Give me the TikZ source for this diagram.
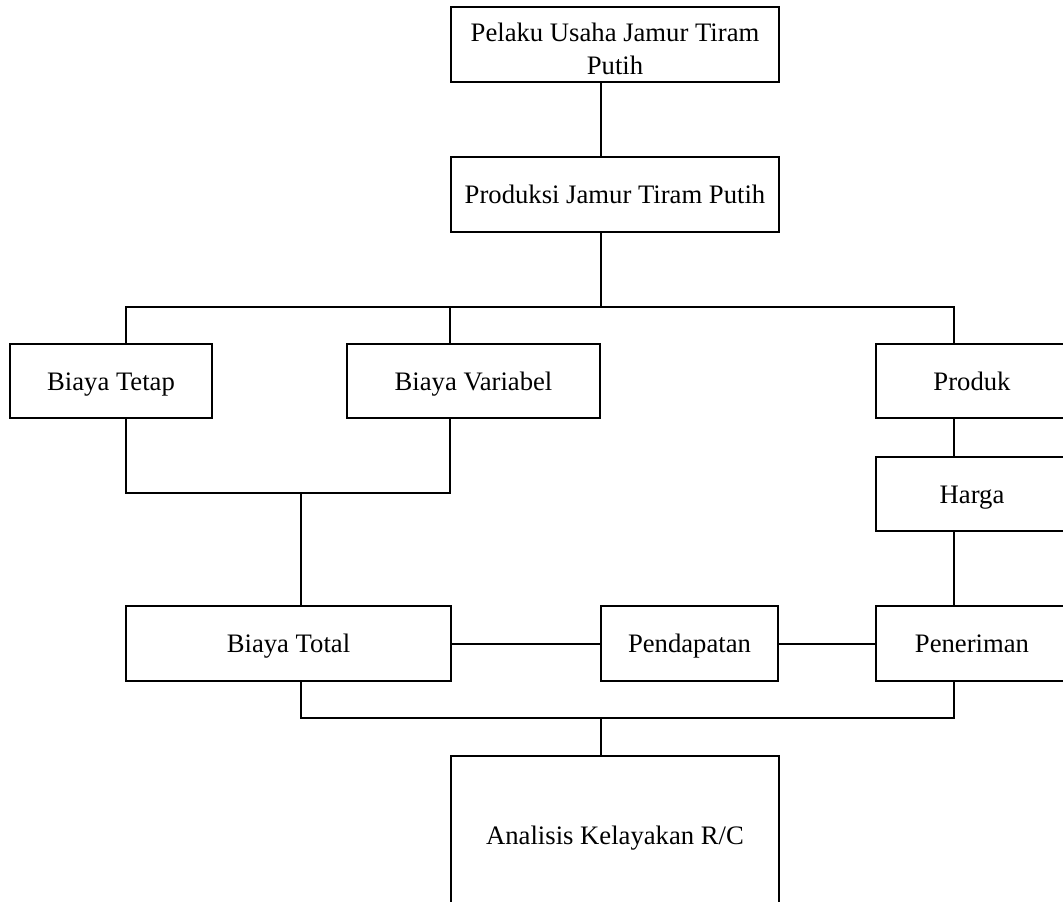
\documentclass[tikz,border=0pt]{standalone}
\usepackage{fontspec}
\setmainfont{Liberation Serif}
\begin{document}
\begin{tikzpicture}[x=0.75pt,y=-0.75pt]
\tikzset{
  box/.style 2 args={draw, line width=1.5pt, inner sep=0pt, align=center,
    font=\fontsize{20}{24.75}\selectfont,
    minimum width={#1*0.75pt}, minimum height={#2*0.75pt}},
  oneline/.style={text height=16pt, text depth=2pt},
  conn/.style={line width=1.5pt}
}
\useasboundingbox (0,0) rectangle (1063,901);
\clip (0,0) rectangle (1063,901);
% boxes
\node[box={328}{75}] (b1) at (615,44.5) {\rule{0pt}{20pt}Pelaku Usaha Jamur Tiram\\Putih};
\node[box={328}{75}, oneline] (b2) at (615,194.5) {Produksi Jamur Tiram Putih};
\node[box={202}{74}, oneline] (tetap) at (111,381) {Biaya Tetap};
\node[box={253}{74}, oneline] (variabel) at (473.5,381) {Biaya Variabel};
\node[box={192}{74}, oneline] (produk) at (972,381) {Produk};
\node[box={192}{74}, oneline] (harga) at (972,494) {Harga};
\node[box={325}{75}, oneline] (total) at (288.5,643.5) {Biaya Total};
\node[box={177}{75}, oneline] (pendapatan) at (689.5,643.5) {Pendapatan};
\node[box={192}{75}, oneline] (peneriman) at (972,643.5) {Peneriman};
\node[box={328}{158}, oneline] (analisis) at (615,835) {Analisis Kelayakan R/C};
% junction coordinates
\coordinate (sp) at (601,307);
\coordinate (cT) at (126,307);
\coordinate (cV) at (450,307);
\coordinate (cP) at (954,307);
\coordinate (jT) at (126,493);
\coordinate (jV) at (450,493);
\coordinate (jM) at (301,493);
\coordinate (kT) at (301,718);
\coordinate (kP) at (954,718);
\coordinate (kM) at (601,718);
% connectors
\draw[conn] (b1.south -| sp) -- (b2.north -| sp);
\draw[conn] (b2.south -| sp) -- (sp);
\draw[conn] (tetap.north -| cT) -- (cT) -- (cP) -- (produk.north -| cP);
\draw[conn] (variabel.north -| cV) -- (cV);
\draw[conn] (tetap.south -| jT) -- (jT) -- (jV) -- (variabel.south -| jV);
\draw[conn] (jM) -- (total.north -| jM);
\draw[conn] (produk.south -| cP) -- (harga.north -| cP);
\draw[conn] (harga.south -| cP) -- (peneriman.north -| cP);
\draw[conn] (total.east) -- (pendapatan.west);
\draw[conn] (pendapatan.east) -- (peneriman.west);
\draw[conn] (total.south -| kT) -- (kT) -- (kP) -- (peneriman.south -| kP);
\draw[conn] (kM) -- (analisis.north -| kM);
\end{tikzpicture}
\end{document}
